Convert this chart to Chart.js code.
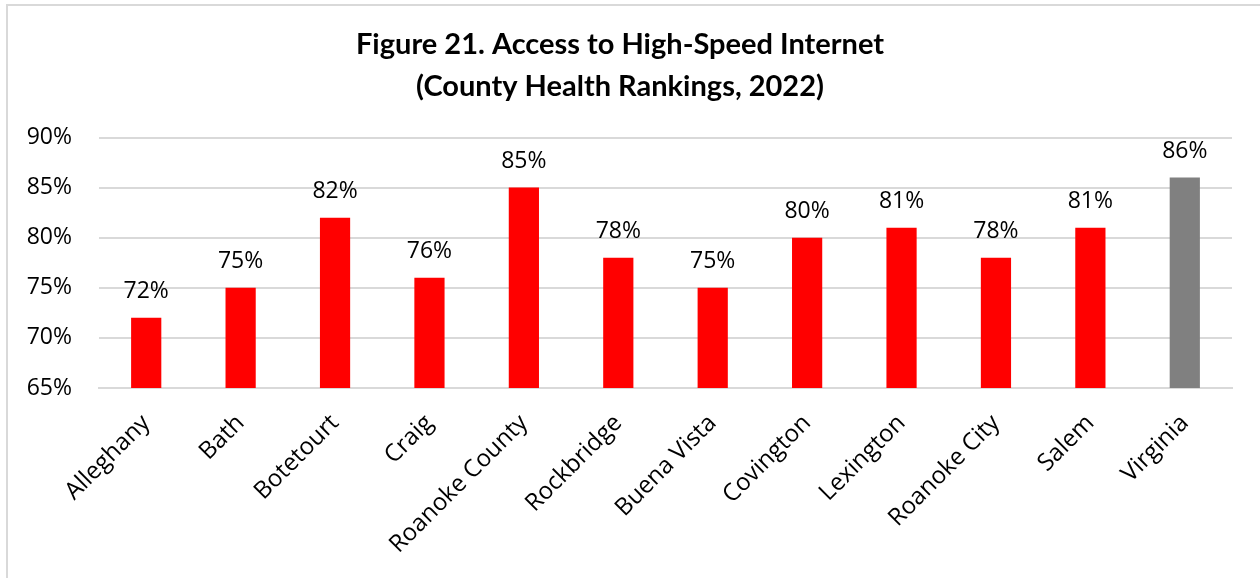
<!DOCTYPE html>
<html>
<head>
<meta charset="utf-8">
<script src="https://cdn.jsdelivr.net/npm/chart.js@4.4.1/dist/chart.umd.min.js"></script>
<style>
  html, body { margin: 0; padding: 0; background: #ffffff; }
  #wrap { position: relative; width: 1260px; height: 578px; overflow: hidden; }
  #frame { position: absolute; left: 6px; top: 4px; width: 1300px; height: 620px;
           border-left: 2px solid #d9d9d9; border-top: 2px solid #d9d9d9; }
  canvas { position: absolute; left: 0; top: 0; }
  .warm { position: absolute; left: -9999px; top: 0; }
</style>
</head>
<body>
<div id="wrap">
  <div id="frame"></div>
  <canvas id="chart" width="1260" height="578"></canvas>
</div>
<span class="warm" style="font-family:'Open Sans'">90% Roanoke</span>
<span class="warm" style="font-family:Lato;font-weight:bold">Figure 21</span>
<script>
// Share of households with broadband access, by locality
const categories = ['Alleghany', 'Bath', 'Botetourt', 'Craig', 'Roanoke County', 'Rockbridge',
                    'Buena Vista', 'Covington', 'Lexington', 'Roanoke City', 'Salem', 'Virginia'];
const accessPct = [72, 75, 82, 76, 85, 78, 75, 80, 81, 78, 81, 86];
const barColors = ['#ff0000', '#ff0000', '#ff0000', '#ff0000', '#ff0000', '#ff0000',
                   '#ff0000', '#ff0000', '#ff0000', '#ff0000', '#ff0000', '#808080'];
const titleLines = ['Figure 21. Access to High-Speed Internet', '(County Health Rankings, 2022)'];
const yMin = 65, yMax = 90, yStep = 5;

const FONT = "'Open Sans', sans-serif";
const TITLE_FONT = "Lato, sans-serif";

// Writes each bar's value above it
const valueLabels = {
  id: 'valueLabels',
  afterDatasetsDraw(chart) {
    const ctx = chart.ctx;
    const meta = chart.getDatasetMeta(0);
    ctx.save();
    ctx.font = '23px ' + FONT;
    ctx.fillStyle = '#000000';
    ctx.textAlign = 'center';
    ctx.textBaseline = 'middle';
    meta.data.forEach((bar, i) => {
      ctx.fillText(accessPct[i] + '%', bar.x, bar.y - 26);
    });
    ctx.restore();
  }
};

function draw() {
  new Chart(document.getElementById('chart'), {
    type: 'bar',
    data: {
      labels: categories,
      datasets: [{
        data: accessPct,
        backgroundColor: barColors,
        borderWidth: 0,
        barPercentage: 0.64,
        categoryPercentage: 0.5
      }]
    },
    options: {
      responsive: false,
      animation: false,
      layout: { padding: { left: 8, right: 28, top: 0, bottom: 0 } },
      plugins: {
        legend: { display: false },
        tooltip: { enabled: false },
        title: {
          display: true,
          text: titleLines,
          color: '#000000',
          font: { family: TITLE_FONT, size: 29, weight: 'bold', lineHeight: 1.44 },
          padding: { top: 24, bottom: 30 }
        }
      },
      scales: {
        x: {
          grid: { display: false, drawTicks: false },
          border: { display: true, color: '#d9d9d9', width: 2 },
          ticks: {
            color: '#000000',
            font: { family: FONT, size: 24 },
            minRotation: 45,
            maxRotation: 45,
            padding: 21,
            autoSkip: false
          },
          afterFit(scale) { scale.height = 190; }
        },
        y: {
          min: yMin,
          max: yMax,
          border: { display: false },
          grid: { color: '#d9d9d9', lineWidth: 2, drawTicks: false },
          ticks: {
            stepSize: yStep,
            color: '#000000',
            font: { family: FONT, size: 23 },
            padding: 27,
            callback: (v) => v + '%'
          },
          afterFit(scale) { scale.width = 91; }
        }
      }
    },
    plugins: [valueLabels]
  });
}

Promise.all([
  document.fonts.load("23px 'Open Sans'"),
  document.fonts.load("bold 29px Lato")
]).then(draw, draw);
</script>
</body>
</html>
